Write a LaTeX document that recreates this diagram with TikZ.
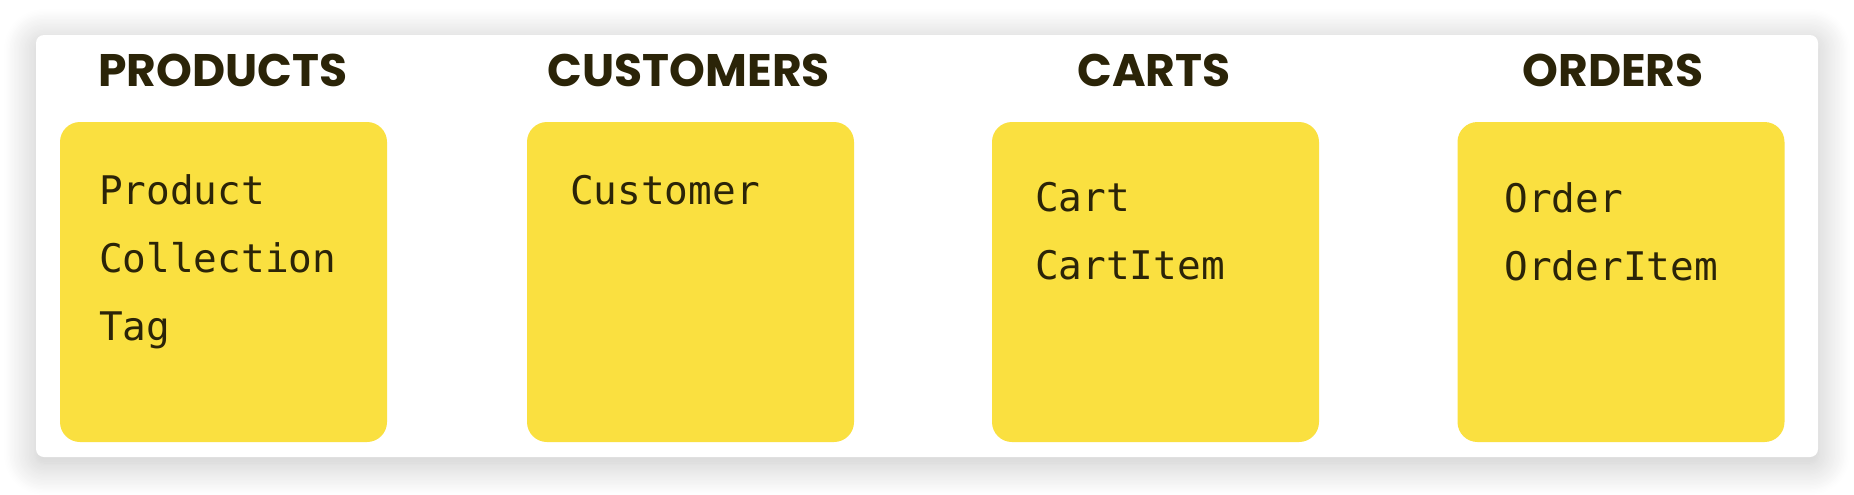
\documentclass[tikz,border=0pt]{standalone}
\usepackage{fontspec}
\usetikzlibrary{positioning,shadows.blur}
\newfontfamily\headfont{Poppins}
\newfontfamily\codefont{DejaVu Sans Mono}
\definecolor{stickyyellow}{RGB}{250,224,64}
\definecolor{inkdark}{RGB}{43,36,8}
\tikzset{
  panel/.style={fill=white, rounded corners=4pt,
    blur shadow={shadow xshift=0pt, shadow yshift=-3pt,
      shadow blur radius=16pt, shadow blur steps=24, shadow opacity=24}},
  sticky/.style={fill=stickyyellow, rounded corners=10pt,
    minimum width=163.5pt, minimum height=160pt, inner sep=0pt},
  heading/.style={font=\headfont\bfseries\fontsize{22.8}{28}\selectfont,
    text=inkdark, anchor=base, inner sep=0pt},
  entries/.style={font=\codefont\fontsize{19.7}{34}\selectfont,
    text=inkdark, align=left, anchor=base west, inner sep=0pt},
}
\begin{document}
\begin{tikzpicture}[x=0.5pt,y=-0.5pt]
   \useasboundingbox (0,0) rectangle (1854,494);
   \path[panel] (36,35) rectangle (1818,457);

   % the four sticky notes
   \path (223.5,282) node[sticky] (products) {};
   \path (690.5,282) node[sticky] (customers) {};
   \path (1155.5,282) node[sticky] (carts) {};
   \path (1621,282) node[sticky] (orders) {};

   % headings
   \path (223,86) node[heading] (productsT) {PRODUCTS};
   \path (689,86) node[heading] (customersT) {CUSTOMERS};
   \path (1154,86) node[heading] (cartsT) {CARTS};
   \path (1613,86) node[heading] (ordersT) {ORDERS};

   % model names (base = last line)
   \path (products.north west) ++(39,219) node[entries] (productsL)
     {Product\\Collection\\Tag};
   \path (customers.north west) ++(43,83) node[entries] (customersL)
     {Customer};
   \path (carts.north west) ++(43,158) node[entries] (cartsL)
     {Cart\\CartItem};
   \path (orders.north west) ++(47,159) node[entries] (ordersL)
     {Order\\OrderItem};
\end{tikzpicture}
\end{document}
